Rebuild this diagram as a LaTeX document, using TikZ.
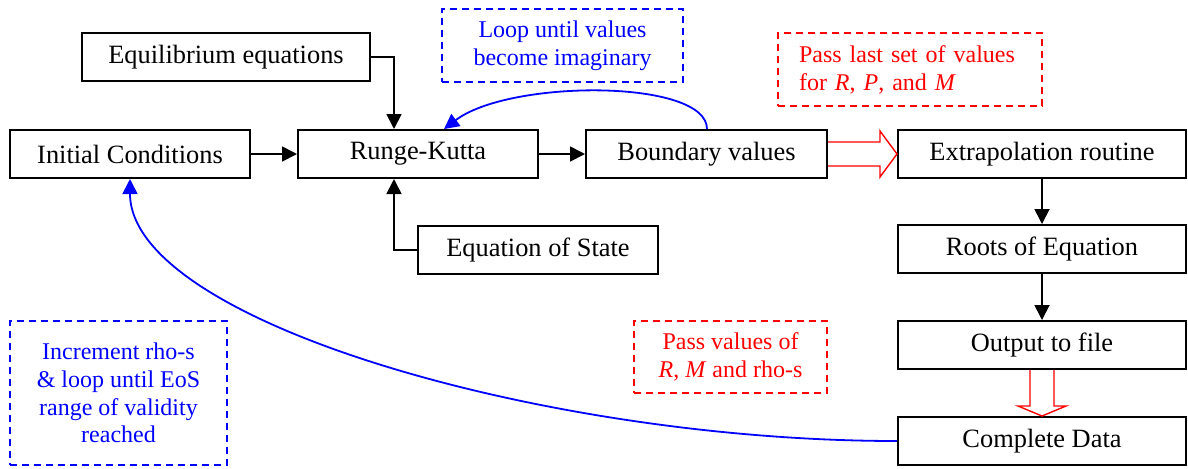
\documentclass[tikz,border=0pt]{standalone}
\usepackage{fontspec}
\setmainfont{Liberation Serif}
\usetikzlibrary{arrows.meta,calc}
\begin{document}
\begin{tikzpicture}[x=0.5pt,y=-0.5pt,
 box/.style={draw,line width=1pt,minimum height=24pt,inner sep=0pt,font=\fontsize{13.2}{15}\selectfont},
 note/.style={draw,dash pattern=on 3.5pt off 2.5pt,line width=0.8pt,inner sep=0pt,align=center,font=\fontsize{12}{14}\selectfont},
 bluenote/.style={note,blue,text=blue},
 rednote/.style={note,red,text=red},
 flow/.style={line width=0.9pt,-{Triangle[length=7.5pt,width=7.5pt]}},
 loopline/.style={blue,line width=0.9pt,-{Triangle[length=7.5pt,width=7.5pt]}},
 hollow/.style={red,line width=0.7pt}]
\useasboundingbox (0,0) rectangle (1188,468);
% main boxes
\node[box,minimum width=144pt] (eq) at (226,57) {Equilibrium equations};
\node[box,minimum width=120pt] (ic) at (130,154) {Initial Conditions};
\node[box,minimum width=120pt] (rk) at (418,154) {Runge-Kutta};
\node[box,minimum width=120pt] (eos) at (538,250) {Equation of State};
\node[box,minimum width=120.5pt] (bv) at (706.5,154) {Boundary values};
\node[box,minimum width=144pt] (ext) at (1042,154) {Extrapolation routine};
\node[box,minimum width=144pt] (roots) at (1042,249) {Roots of Equation};
\node[box,minimum width=144pt] (out) at (1042,345) {Output to file};
\node[box,minimum width=144pt] (cd) at (1042,441) {Complete Data};
% notes
\node[bluenote,minimum width=120.5pt,minimum height=36.5pt] (loopnote) at (562.5,45.5) {Loop until values\\become imaginary};
\node[rednote,minimum width=132pt,minimum height=36.5pt,align=left,text width=111pt,inner xsep=10.5pt] (pass1) at (910,69.5) {Pass last set of values\\for \textit{R}, \textit{P}, and \textit{M}};
\node[bluenote,minimum width=108.5pt,minimum height=72pt,font=\fontsize{12}{13.85}\selectfont] (inc) at (118.5,393) {Increment rho-s\\\& loop until EoS\\range of validity\\reached};
\node[rednote,minimum width=96.5pt,minimum height=36pt] (pass2) at (730.5,357) {Pass values of\\\textit{R}, \textit{M} and rho-s};
% connectors
\draw[flow] (eq.east) -| ($(rk.north)+(-24,0)$);
\draw[flow] (eos.west) -| ($(rk.south)+(-24,0)$);
\draw[flow] (ic.east) -- (rk.west);
\draw[flow] (rk.east) -- (bv.west);
\draw[flow] (ext.south) -- (roots.north);
\draw[flow] (roots.south) -- (out.north);
% hollow red arrows
\draw[hollow] ($(bv.east)+(0,-12)$) -- ++(52,0) -- ++(0,-11) -- (ext.west) -- ($(bv.east)+(52,23)$) -- ++(0,-11) -- ++(-52,0);
\draw[hollow] ($(out.south)+(-12,0)$) -- ++(0,36) -- ++(-12,0) -- (cd.north) -- ($(out.south)+(24,36)$) -- ++(-12,0) -- ++(0,-36);
% blue loops
\draw[loopline] ($(bv.north)+(0.5,0)$) .. controls +(0,-50) and +(66,-50) .. ($(rk.north)+(26,0)$);
\draw[loopline] (cd.west) .. controls +(-352,0) and +(0,142) .. (ic.south);
\end{tikzpicture}
\end{document}
